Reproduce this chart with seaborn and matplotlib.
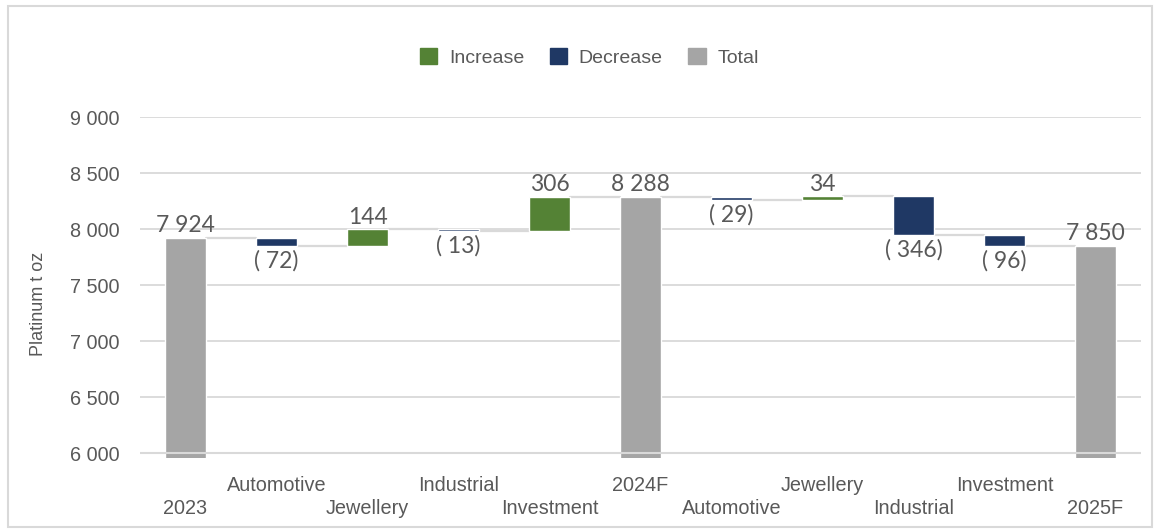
import numpy as np
import pandas as pd
import matplotlib.pyplot as plt
from matplotlib.patches import Patch, Rectangle
import seaborn as sns

# waterfall data (Platinum demand, t oz)
categories = ['2023', 'Automotive', 'Jewellery', 'Industrial', 'Investment', '2024F',
              'Automotive', 'Jewellery', 'Industrial', 'Investment', '2025F']
values = [7924, -72, 144, -13, 306, 8288, -29, 34, -346, -96, 7850]
kinds = ['Total', 'Decrease', 'Increase', 'Decrease', 'Increase', 'Total',
         'Decrease', 'Increase', 'Decrease', 'Decrease', 'Total']

colors = {'Increase': '#548235', 'Decrease': '#1f3864', 'Total': '#a5a5a5'}
txt = '#595959'
grid_c = '#d9d9d9'

# build low/high for each bar from a running level
rows = []
level = 0
for cat, v, k in zip(categories, values, kinds):
    if k == 'Total':
        low, high = 0, v
        level = v
    else:
        start = level
        level = level + v
        low, high = min(start, level), max(start, level)
    rows.append((cat, v, k, low, high, level))
df = pd.DataFrame(rows, columns=['cat', 'value', 'kind', 'low', 'high', 'end'])
df['pos'] = np.arange(len(df))

sns.set_theme(style='white')
plt.rcParams['font.family'] = ['Liberation Sans', 'DejaVu Sans']

fig = plt.figure(figsize=(11.6, 5.29), dpi=100)
ax = fig.add_axes([0.1207, 0.135, 0.8629, 0.6438])

bw = 0.45
ax.bar(df['pos'], df['high'] - df['low'], bottom=df['low'], width=bw,
       color=[colors[k] for k in df['kind']], zorder=2)

# connectors between bars
for i in range(len(df) - 1):
    lvl = df['end'][i]
    ax.plot([df['pos'][i] + bw / 2, df['pos'][i + 1] - bw / 2], [lvl, lvl],
            color=grid_c, lw=1.6, zorder=1.5)

# data labels
for _, r in df.iterrows():
    if r['kind'] == 'Decrease':
        s = f"( {abs(r['value'])})"
        ax.annotate(s, (r['pos'], r['low']), xytext=(0, -3), textcoords='offset points',
                    ha='center', va='top', fontsize=16.5, color=txt, family=['Lato', 'DejaVu Sans'])
    else:
        s = f"{r['value']:,}".replace(',', ' ')
        ax.annotate(s, (r['pos'], r['high']), xytext=(0, 1), textcoords='offset points',
                    ha='center', va='bottom', fontsize=16.5, color=txt, family=['Lato', 'DejaVu Sans'])

ax.set_ylim(5960, 9000)
ax.set_xlim(-0.5, len(df) - 0.5)
yt = [6000, 6500, 7000, 7500, 8000, 8500, 9000]
ax.set_yticks(yt)
ax.set_yticklabels([f"{t:,}".replace(',', ' ') for t in yt])
ax.yaxis.grid(True, color=grid_c, lw=1.3, zorder=0)
ax.set_axisbelow(True)
ax.axhline(6000, color=grid_c, lw=1.5, zorder=3)

# staggered category labels
ax.set_xticks(df['pos'])
ax.set_xticklabels([('\n' + c) if i % 2 == 0 else (c + '\n') for i, c in enumerate(categories)],
                   linespacing=1.3)
ax.tick_params(axis='x', length=0, pad=13, labelsize=14.3, labelcolor=txt)
ax.tick_params(axis='y', length=0, pad=15, labelsize=14.3, labelcolor=txt)
for sp in ax.spines.values():
    sp.set_visible(False)

ax.set_ylabel('Platinum t oz', fontsize=13, color=txt)
ax.yaxis.set_label_coords(-0.093, 0.45)

handles = [Patch(color=colors[k], label=k) for k in ['Increase', 'Decrease', 'Total']]
fig.legend(handles=handles, loc='center', bbox_to_anchor=(0.508, 0.892), ncol=3,
           frameon=False, fontsize=14, labelcolor=txt, handlelength=0.9, handleheight=0.9,
           handletextpad=0.6, columnspacing=1.3)

fig.patches.append(Rectangle((8 / 1160, 2 / 529), 1144 / 1160, 521 / 529, transform=fig.transFigure,
                             fill=False, edgecolor=grid_c, lw=1.5))

fig.savefig('out.png', dpi=100)
